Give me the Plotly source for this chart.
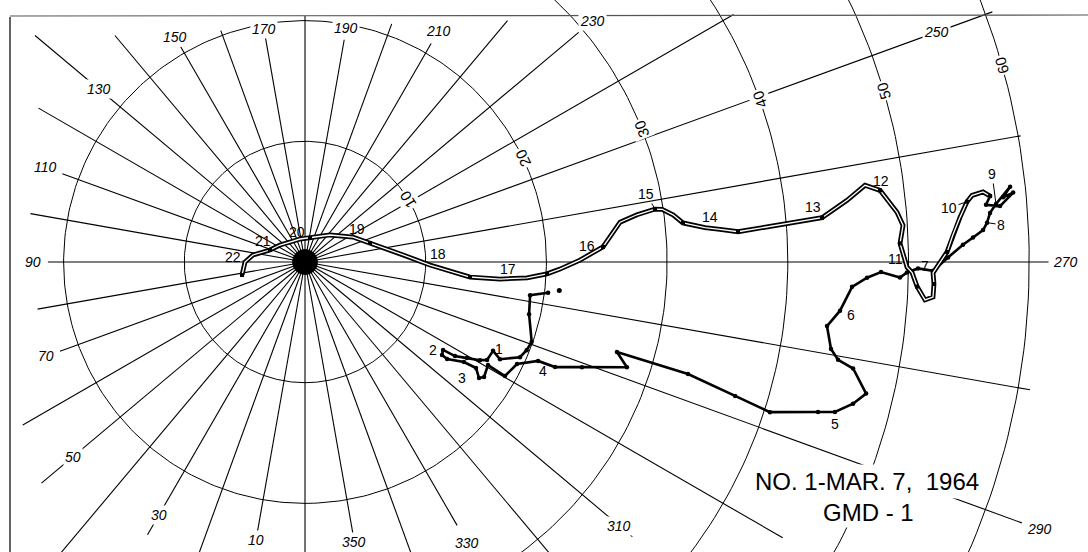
import numpy as np
import plotly.graph_objects as go

# ---------------- plotting board ----------------
ring_ranges = [10, 20, 30, 40, 50, 60]
spoke_az = list(range(0, 360, 10))
spoke_len = [30, 23.4, 30, 26.1, 40, 28.5, 27.0, 21.6, 22.5, 21.3,
             23.1, 21.4, 25.5, 29.2, 24.5, 20.6, 20.4, 18.9, 20.4, 18.7,
             21.0, 20.9, 26.1, 29.6, 41.0, 60.6, 60.2, 61.6, 61.0, 63.2,
             45.7, 35.4, 40.0, 25.2, 40.0, 23.0]

az_labels = [10, 30, 50, 70, 90, 110, 130, 150, 170, 190,
             210, 230, 250, 270, 290, 310, 330, 350]
az_label_r = [23.4, 24.2, 25.1, 22.8, 22.5, 22.9, 22.3, 21.5, 19.6, 19.7,
              22.1, 31.1, 55.7, 63.0, 64.8, 34.0, 26.9, 23.6]

ring_label_az = [238.5, 244.6, 248.4, 250.3, 253.5, 254.2]

# ---------------- flight track ----------------
first_fix = (276.4, 21.2)

# single-traced portion, launch through minute 9
track1_az = [277.2, 278.4, 283.1, 289.4, 291.7, 293.9, 296.5, 295.3, 298.3, 299.3,
             300.7, 302.1, 302.5, 304.2, 304.3, 302.2, 301.8, 303.7, 302.7, 299.4,
             299.7, 295.7, 293.0, 292.8, 290.8, 288.1, 286.1, 286.3, 287.3, 287.9,
             286.3, 285.8, 284.5, 283.2, 281.0, 280.4, 279.4, 277.0, 275.2, 272.6,
             271.6, 271.0, 271.5, 271.0, 270.6, 270.8, 269.6, 268.5, 267.9, 267.3,
             266.7, 265.9, 265.2, 263.9, 264.7, 264.4, 265.4, 265.2, 264.5]
track1_r = [20.3, 18.85, 19.06, 19.91, 19.76, 19.48, 18.05, 17.23, 17.13, 16.62,
            15.6, 14.67, 13.56, 13.72, 14.25, 15.56, 16.67, 17.33, 17.63, 17.4,
            19.07, 19.49, 20.98, 22.47, 24.54, 28.06, 26.9, 33.06, 37.32, 40.48,
            44.28, 45.63, 46.9, 47.75, 46.26, 44.9, 44.17, 43.57, 44.51, 45.37,
            46.58, 47.73, 49.31, 49.88, 50.79, 52.04, 53.27, 54.53, 55.38, 56.24,
            56.6, 56.9, 57.45, 58.75, 58.08, 58.95, 57.77, 56.62, 57.02]

# double-traced portion, minute 9 through minute 22
track2_az = [264.5, 264.1, 264.3, 264.8, 266.1, 267.6, 269.1, 270.3, 271.0, 272.0,
             273.2, 273.5, 272.3, 271.0, 270.5, 268.2, 266.5, 265.2, 262.9, 262.2,
             263.5, 265.1, 265.4, 265.7, 266.0, 265.5, 265.1, 264.1, 262.7, 261.6,
             261.4, 261.9, 262.8, 267.1, 269.6, 271.6, 272.8, 274.1, 275.0, 275.2,
             271.4, 265.9, 253.7, 242.5, 222.8, 191.8, 167.7, 124.2, 108.9, 97.7,
             90.0, 78.3]
track2_r = [57.02, 56.47, 55.54, 55.07, 54.39, 53.73, 53.2, 52.45, 52.04, 52.14,
            52.11, 51.46, 50.75, 50.3, 49.88, 49.32, 49.64, 49.22, 48.01, 46.83,
            45.2, 42.99, 40.06, 37.8, 35.96, 34.49, 33.26, 31.48, 30.74, 29.9,
            29.33, 27.78, 26.31, 24.72, 22.78, 21.13, 20.07, 18.44, 16.22, 13.73,
            10.36, 8.14, 5.61, 4.48, 3.05, 2.03, 1.95, 2.5, 3.07, 4.35,
            4.97, 5.33]

# minute marks: (minute, track, vertex index, label offset px right, px down, leader)
minute_marks = [
    (1, 1, 6, -1, -10, False), (2, 1, 12, -10, 0, False), (3, 1, 17, -17, 0, False),
    (4, 1, 22, 5, 10, False), (5, 1, 31, 0, 12, False), (6, 1, 38, 11, 4, False),
    (7, 1, 44, 7, -2, False), (8, 1, 50, 14, 2, True), (9, 1, 52, -4, -30, True),
    (10, 2, 3, -18, 6, True), (11, 2, 14, -12, -8, False), (12, 2, 19, 16, -4, False),
    (13, 2, 21, -9, -11, False), (14, 2, 26, 5, -11, False), (15, 2, 30, -9, -15, True),
    (16, 2, 33, -16, -1, False), (17, 2, 38, 8, -10, False), (18, 2, 40, 8, -11, False),
    (19, 2, 43, 4, -8, False), (20, 2, 46, -3, -7, False), (21, 2, 48, -7, -9, False),
    (22, 2, 50, -12, -5, True),
]

W, H = 1088, 552
X_RANGE = [-25.27, 64.87]
Y_RANGE = [-24.03, 21.71]
LABEL_FONT = "Liberation Sans"


def to_xy(az, r):
    """Board azimuth (0 down, 90 left, 180 up, 270 right) and range to x/y."""
    a = np.radians(np.asarray(az, dtype=float))
    r = np.asarray(r, dtype=float)
    return -r * np.sin(a), -r * np.cos(a)


fig = go.Figure()


def add_line(x, y, width, color="black", mode="lines", **kw):
    fig.add_trace(go.Scatter(x=x, y=y, mode=mode, hoverinfo="skip", showlegend=False,
                             line=dict(color=color, width=width), **kw))


# range rings
for rr in ring_ranges:
    az = np.arange(0, 361, 1.0) if rr <= 20 else np.arange(180, 361, 1.0)
    x, y = to_xy(az, np.full(az.shape, rr))
    add_line(x, y, 1.0)

# azimuth spokes
sx, sy = [], []
for a, ln in zip(spoke_az, spoke_len):
    x, y = to_xy([a, a], [0, ln])
    sx += list(x) + [None]
    sy += list(y) + [None]
add_line(sx, sy, 1.1)

# dense hub where the spokes converge
hx, hy = [], []
for a in np.arange(0, 360, 5):
    x, y = to_xy([a, a], [0, 1.05])
    hx += list(x) + [None]
    hy += list(y) + [None]
add_line(hx, hy, 1.8)
fig.add_trace(go.Scatter(x=[0], y=[0], mode="markers", hoverinfo="skip", showlegend=False,
                         marker=dict(color="black", size=9)))

# track, single-traced part
x1, y1 = to_xy(track1_az, track1_r)
add_line(x1, y1, 2.6, mode="lines+markers", marker=dict(color="black", size=4.5))
fx, fy = to_xy([first_fix[0]], [first_fix[1]])
fig.add_trace(go.Scatter(x=fx, y=fy, mode="markers", hoverinfo="skip", showlegend=False,
                         marker=dict(color="black", size=5)))

# track, double-traced part
x2, y2 = to_xy(track2_az, track2_r)
add_line(x2, y2, 4.8)
add_line(x2, y2, 1.3, color="white")
fig.add_trace(go.Scatter(x=x2[::3], y=y2[::3], mode="markers", hoverinfo="skip",
                         showlegend=False,
                         marker=dict(color="black", size=4, symbol="square")))

annotations = []

# azimuth labels
for a, r in zip(az_labels, az_label_r):
    x, y = to_xy([a], [r])
    annotations.append(dict(x=x[0], y=y[0], text=str(a), showarrow=False,
                            xanchor="center", yanchor="middle",
                            font=dict(family=LABEL_FONT, size=14, color="black",
                                      style="italic"),
                            bgcolor="white", borderpad=1))

# range ring labels, lettered along the ring
for rr, a in zip(ring_ranges, ring_label_az):
    x, y = to_xy([a], [rr])
    screen_angle = 270 - a
    annotations.append(dict(x=x[0], y=y[0], text=str(rr), showarrow=False,
                            xanchor="center", yanchor="middle",
                            textangle=-(screen_angle + 90),
                            font=dict(family=LABEL_FONT, size=15, color="black"),
                            bgcolor="white", borderpad=1))

# minute labels
for minute, part, idx, dx, dy, leader in minute_marks:
    xs, ys = (x1, y1) if part == 1 else (x2, y2)
    annotations.append(dict(x=xs[idx], y=ys[idx], text=str(minute),
                            showarrow=leader, arrowhead=0, arrowwidth=1,
                            arrowcolor="black", ax=dx, ay=dy, standoff=2,
                            xanchor="center", yanchor="middle",
                            xshift=0 if leader else dx, yshift=0 if leader else -dy,
                            font=dict(family=LABEL_FONT, size=14, color="black")))

# legend block
annotations.append(dict(x=867 / W, y=1 - 481 / H, xref="paper", yref="paper",
                        xanchor="center", yanchor="middle",
                        text="NO. 1-MAR. 7,  1964", showarrow=False,
                        font=dict(family=LABEL_FONT, size=24, color="black"),
                        bgcolor="white", borderpad=3))
annotations.append(dict(x=868 / W, y=1 - 512 / H, xref="paper", yref="paper",
                        xanchor="center", yanchor="middle",
                        text="GMD - 1", showarrow=False,
                        font=dict(family=LABEL_FONT, size=24, color="black"),
                        bgcolor="white", borderpad=1))

# sheet border
shapes = [
    dict(type="line", xref="paper", yref="paper", x0=10 / W, x1=10 / W,
         y0=1 - 17 / H, y1=0, line=dict(color="#222", width=1.4)),
    dict(type="line", xref="paper", yref="paper", x0=10 / W, x1=1,
         y0=1 - 16 / H, y1=1 - 15 / H, line=dict(color="#555", width=1.2)),
]

fig.update_layout(
    width=W, height=H,
    margin=dict(l=0, r=0, t=0, b=0),
    paper_bgcolor="white", plot_bgcolor="white",
    xaxis=dict(range=X_RANGE, visible=False, fixedrange=True),
    yaxis=dict(range=Y_RANGE, visible=False, fixedrange=True),
    annotations=annotations, shapes=shapes,
    showlegend=False,
)

fig.write_html("out.html")
